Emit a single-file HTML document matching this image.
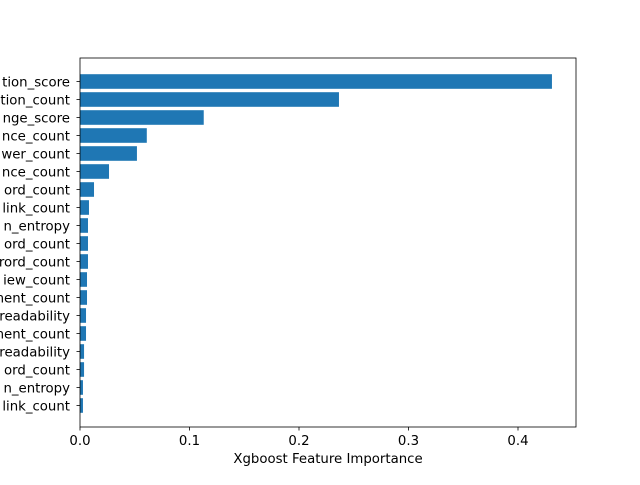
<!DOCTYPE html>
<html><head><meta charset="utf-8"><style>
body{margin:0;background:#fff;}
svg text{font-family:"DejaVu Sans","Liberation Sans",sans-serif;font-size:13.3px;fill:#000;}
</style></head><body>
<svg id="chart" width="640" height="480" xmlns="http://www.w3.org/2000/svg"></svg>
<script>
const categories=["tion_score","tion_count","nge_score","nce_count","wer_count","nce_count","ord_count","link_count","n_entropy","ord_count","rord_count","iew_count","ment_count","readability","ment_count","readability","ord_count","n_entropy","link_count"];
const values=[0.431,0.2365,0.113,0.061,0.052,0.0265,0.0128,0.0082,0.0073,0.0073,0.0073,0.0064,0.0064,0.0055,0.0055,0.0037,0.0037,0.0027,0.0027];
const xTicks=[0,0.1,0.2,0.3,0.4];
const xTickLabels=["0.0","0.1","0.2","0.3","0.4"];
const NS="http://www.w3.org/2000/svg";
const svg=document.getElementById('chart');
const L=80,R=576,T=58,B=427;
function xs(v){return L+v*1095;}
function ys(i){return 81.5+i*18;}
function mk(t,a){const e=document.createElementNS(NS,t);for(const k in a)e.setAttribute(k,a[k]);svg.appendChild(e);return e;}
categories.forEach((c,i)=>{
  const r=mk('rect',{x:xs(0),y:ys(i)-7.3,width:xs(values[i])-xs(0),height:14.6,fill:'#1f77b4'});
  
  
  const tk=mk('line',{x1:L-3.5,x2:L,y1:ys(i),y2:ys(i),stroke:'#000','stroke-width':0.8});
  
  
  const t=mk('text',{x:L-10,y:ys(i)+5,'text-anchor':'end','font-size':'14px'});
  t.textContent=c;
  
  
});
xTicks.forEach((v,i)=>{
  const tk=mk('line',{x1:xs(v),x2:xs(v),y1:B,y2:B+3.5,stroke:'#000','stroke-width':0.8});
  
  
  const t=mk('text',{x:xs(v),y:B+18,'text-anchor':'middle'});
  t.textContent=xTickLabels[i];
  
  
});
const fr=mk('rect',{x:L,y:T,width:R-L,height:B-T,fill:'none',stroke:'#000','stroke-width':0.8});


const xl=mk('text',{x:(L+R)/2,y:463,'text-anchor':'middle'});
xl.textContent='Xgboost Feature Importance';


</script>
</body></html>
